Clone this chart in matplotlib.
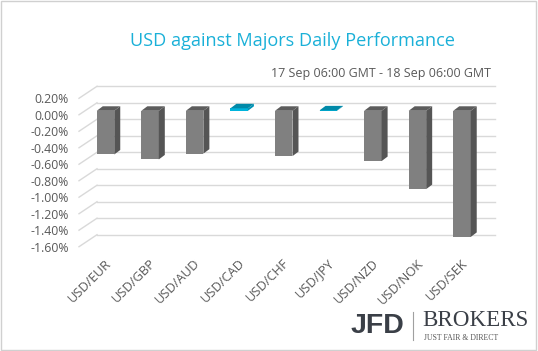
import matplotlib.pyplot as plt
from matplotlib.patches import Polygon, Rectangle

pairs = ['USD/EUR', 'USD/GBP', 'USD/AUD', 'USD/CAD', 'USD/CHF',
         'USD/JPY', 'USD/NZD', 'USD/NOK', 'USD/SEK']
change = [-0.53, -0.59, -0.52, 0.03, -0.55, 0.005, -0.61, -0.95, -1.53]
yticks = [0.2, 0.0, -0.2, -0.4, -0.6, -0.8, -1.0, -1.2, -1.4, -1.6]

W, H = 538, 351
fig = plt.figure(figsize=(W / 100, H / 100), dpi=100)
fig.patches.append(Rectangle((0.002, 0.003), 0.995, 0.994, transform=fig.transFigure,
                             fill=False, edgecolor='#d0d0d0', lw=1))

# axes placed so 0.2% sits at y=98px and -1.6% at y=247px
left_px, right_px, top_px, bot_px = 70, 500, 75, 255
ax = fig.add_axes([left_px / W, 1 - bot_px / H, (right_px - left_px) / W, (bot_px - top_px) / H])
pxy = 82.5      # pixels per 1%
pxx = 44.56     # pixels per category
x0 = 105.5      # pixel centre of first bar
ax.set_ylim(-1.6 - (bot_px - 246.7) / pxy, 0.2 + (98.3 - top_px) / pxy)
ax.set_xlim((left_px - x0) / pxx, (right_px - x0) / pxx)
for s in ax.spines.values():
    s.set_visible(False)
ax.set_xticks([])
ax.set_yticks(yticks)
ax.set_yticklabels(['%.2f%%' % t for t in yticks], fontsize=8.8, color='#595959',
                   family='Open Sans')
ax.tick_params(axis='y', length=0, pad=1)

# grid: diagonal on left wall, horizontal on back wall
back_dy = 12 / pxy
xf = (79 - x0) / pxx
xb = (97 - x0) / pxx
xe = (495 - x0) / pxx
for t in yticks:
    ax.plot([xf, xb], [t, t + back_dy], color='#d9d9d9', lw=1, zorder=1)
    ax.plot([xb, xe], [t + back_dy, t + back_dy], color='#d9d9d9', lw=1, zorder=1)

# pseudo 3d columns
bw = 17.5 / pxx
dx = 6 / pxx
dy = 4.5 / pxy
off = 4 / pxy
for i, v in enumerate(change):
    if v >= 0:
        front, side, top = '#00b4dc', '#0093b5', '#0089a8'
    else:
        front, side, top = '#808080', '#555555', '#5c5c5c'
    xl = i - bw / 2
    xr = i + bw / 2
    lo, hi = min(0, v) + off, max(0, v) + off
    ax.add_patch(Polygon([(xl, lo), (xr, lo), (xr, hi), (xl, hi)], closed=True,
                         facecolor=front, edgecolor='none', zorder=3))
    ax.add_patch(Polygon([(xr, lo), (xr + dx, lo + dy), (xr + dx, hi + dy), (xr, hi)],
                         closed=True, facecolor=side, edgecolor='none', zorder=3))
    ax.add_patch(Polygon([(xl, hi), (xr, hi), (xr + dx, hi + dy), (xl + dx, hi + dy)],
                         closed=True, facecolor=top, edgecolor='none', zorder=3))
    ax.text(i - 0.02, -1.72, pairs[i], rotation=45, ha='right', va='top',
            fontsize=9.3, color='#595959', rotation_mode='anchor', clip_on=False,
            family='Open Sans')

fig.text(292 / W, 1 - 41 / H, 'USD against Majors Daily Performance', ha='center', va='center',
         fontsize=13.1, color='#1ab0d8', family='Open Sans')
fig.text(491 / W, 1 - 74 / H, '17 Sep 06:00 GMT - 18 Sep 06:00 GMT', ha='right', va='center',
         fontsize=9, color='#595959', family='Open Sans')

# logo
fig.text(351 / W, 1 - 326 / H, 'JFD', ha='left', va='center', fontsize=20.5, fontweight='bold',
         color='#3a3f47', family='Liberation Sans')
fig.add_artist(plt.Line2D([413 / W, 413 / W], [1 - 340 / H, 1 - 312 / H], color='#a0a0a0', lw=0.8))
fig.text(422 / W, 1 - 321 / H, 'BROKERS', ha='left', va='center', fontsize=16.6,
         color='#3a3f47', family='Liberation Serif')
fig.text(424 / W, 1 - 338 / H, 'JUST FAIR & DIRECT', ha='left', va='center', fontsize=5.6,
         color='#555555', family='Liberation Serif')

fig.savefig('out.png', dpi=100)
